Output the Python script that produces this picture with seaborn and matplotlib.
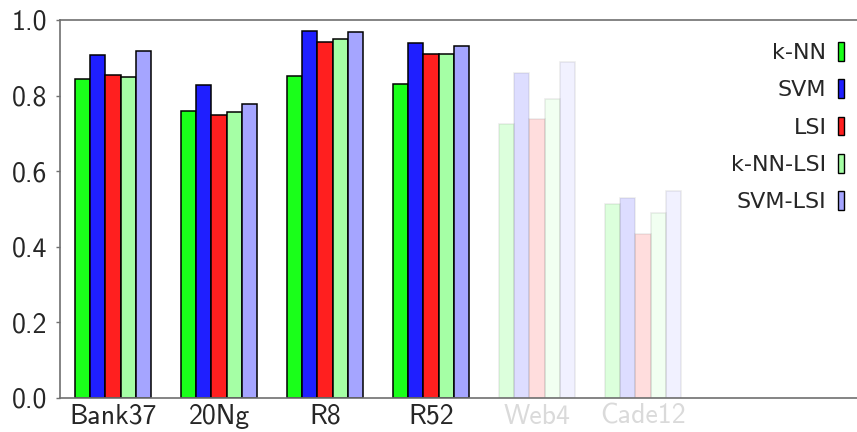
import matplotlib
matplotlib.use("Agg")
import matplotlib.pyplot as plt
import seaborn as sns
import pandas as pd
from matplotlib.patches import Patch

datasets = ["Bank37", "20Ng", "R8", "R52", "Web4", "Cade12"]
methods = ["k-NN", "SVM", "LSI", "k-NN-LSI", "SVM-LSI"]
knn = [0.843, 0.760, 0.853, 0.832, 0.726, 0.513]
svm = [0.907, 0.829, 0.970, 0.938, 0.859, 0.530]
lsi = [0.854, 0.749, 0.942, 0.910, 0.737, 0.434]
knn_lsi = [0.850, 0.756, 0.950, 0.911, 0.792, 0.489]
svm_lsi = [0.919, 0.778, 0.968, 0.932, 0.890, 0.548]
faded = ["Web4", "Cade12"]
colors = ["#1aff1a", "#1f1fff", "#ff1f1f", "#a5ffa5", "#a5a5ff"]

series = [knn, svm, lsi, knn_lsi, svm_lsi]
rows = []
for m, vals in zip(methods, series):
    for d, v in zip(datasets, vals):
        rows.append({"dataset": d, "method": m, "value": v})
df = pd.DataFrame(rows)

sns.set_style("white")
plt.rcParams["axes.unicode_minus"] = False

fig = plt.figure(figsize=(8.57, 4.32), dpi=100)
ax = fig.add_axes([60 / 857, 34 / 432, 797 / 857, 378 / 432])

sns.barplot(data=df, x="dataset", y="value", hue="method", order=datasets,
            hue_order=methods, palette=colors, width=0.717, saturation=1,
            edgecolor="black", linewidth=1.1, legend=False, ax=ax)

for cont in ax.containers:
    for i, bar in enumerate(cont):
        if datasets[i] in faded:
            bar.set_alpha(0.15)
            bar.set_edgecolor((0.45, 0.45, 0.45, 0.25))

ax.set_xlim(-0.5, 7.02)
ax.set_ylim(0, 1.0)
ax.set_yticks([0.0, 0.2, 0.4, 0.6, 0.8, 1.0])
ax.set_yticklabels([f"{t:.1f}" for t in [0.0, 0.2, 0.4, 0.6, 0.8, 1.0]],
                   fontfamily="cmss10", fontsize=20)
ax.set_xticks(range(len(datasets)))
ax.set_xticklabels(datasets, fontfamily="cmss10", fontsize=20)
for lbl, d in zip(ax.get_xticklabels(), datasets):
    if d in faded:
        lbl.set_color("#dadada")
ax.set_xlabel("")
ax.set_ylabel("")
ax.tick_params(axis="x", length=0, pad=4)
ax.tick_params(axis="y", length=3, width=1, color="#707070", pad=6, direction="out", left=True)

for s in ["left", "top", "bottom"]:
    ax.spines[s].set_visible(True)
    ax.spines[s].set_color("#707070")
    ax.spines[s].set_linewidth(1.2)
ax.spines["right"].set_visible(False)

handles = [Patch(facecolor=c, edgecolor="black", linewidth=1.0) for c in colors]
ax.legend(handles, methods, loc="upper right", bbox_to_anchor=(0.9945, 0.965),
          frameon=False, markerfirst=False, handlelength=0.28,
          handleheight=0.9, handletextpad=0.5, labelspacing=0.74,
          borderaxespad=0.0, prop={"family": "DejaVu Sans", "size": 16})

fig.savefig("out.png", dpi=100)
